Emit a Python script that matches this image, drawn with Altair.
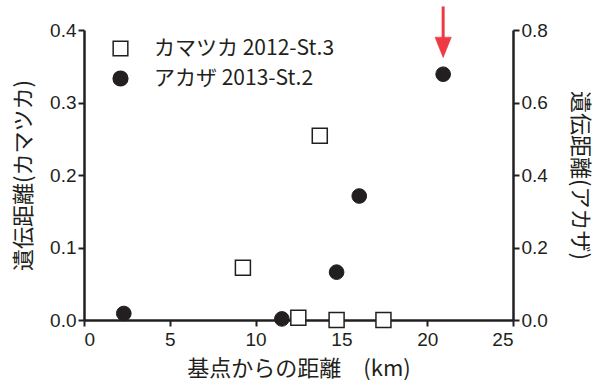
import altair as alt
import pandas as pd

# Distance from the base point (km) and genetic distance per sampling site
kamatsuka_label = "カマツカ 2012-St.3"
akaza_label = "アカザ 2013-St.2"

kamatsuka_km = [9.26, 13.74, 12.49, 14.72, 17.45]
kamatsuka_dist = [0.072, 0.254, 0.003, 0.0, 0.0]

akaza_km = [2.32, 11.53, 14.72, 16.04, 20.93]
akaza_dist = [0.018, 0.003, 0.132, 0.342, 0.678]

# Red marker pointing at the farthest アカザ site (right-axis units)
arrow_km = [20.93]
arrow_top = [0.865]
arrow_neck = [0.775]
arrow_head_center = [0.752]

x_ticks = [0, 5, 10, 15, 20, 25]
left_ticks = [0.0, 0.1, 0.2, 0.3, 0.4]
right_ticks = [0.0, 0.2, 0.4, 0.6, 0.8]

series_domain = [kamatsuka_label, akaza_label]

kam = pd.DataFrame({"km": kamatsuka_km, "dist": kamatsuka_dist, "series": kamatsuka_label})
aka = pd.DataFrame({"km": akaza_km, "dist": akaza_dist, "series": akaza_label})
arrow = pd.DataFrame({"km": arrow_km, "top": arrow_top, "neck": arrow_neck,
                      "head": arrow_head_center})

INK = "#231f20"
RED = "#ee3a43"
NUM_FONT = "Liberation Sans, Arial, Noto Sans CJK JP"
JP_FONT = "Noto Sans CJK JP"

x_enc = alt.X("km:Q",
              scale=alt.Scale(domain=[0, 25], nice=False, zero=True),
              axis=alt.Axis(values=x_ticks, format="d", title="基点からの距離　(km)",
                            labelPadding=4, titlePadding=9, titleColor=INK))

legend_def = alt.Legend(title=None, orient="none", legendX=26, legendY=8,
                        symbolSize=215, symbolStrokeWidth=1.5,
                        labelOffset=23, rowPadding=8, labelFontSize=21,
                        labelLimit=400, labelFont=JP_FONT, labelColor=INK)

shape_enc = alt.Shape("series:N",
                      scale=alt.Scale(domain=series_domain, range=["square", "circle"]),
                      legend=legend_def)
fill_enc = alt.Fill("series:N",
                    scale=alt.Scale(domain=series_domain, range=["white", INK]),
                    legend=legend_def)
stroke_enc = alt.Stroke("series:N",
                        scale=alt.Scale(domain=series_domain, range=[INK, INK]),
                        legend=legend_def)

left_y = alt.Y("dist:Q",
               scale=alt.Scale(domain=[0, 0.4], nice=False),
               axis=alt.Axis(orient="left", values=left_ticks, format=".1f",
                             title="遺伝距離(カマツカ)", titlePadding=14,
                             titleColor=INK))

right_y = alt.Y("dist:Q",
                scale=alt.Scale(domain=[0, 0.8], nice=False),
                axis=alt.Axis(orient="right", values=right_ticks, format=".1f",
                              title="遺伝距離(アカザ)", titlePadding=20,
                              titleColor=INK))

squares = alt.Chart(kam).mark_point(size=225, strokeWidth=1.5, opacity=1,
                                     filled=True).encode(
    x=x_enc, y=left_y, shape=shape_enc, fill=fill_enc, stroke=stroke_enc)

circles = alt.Chart(aka).mark_point(size=215, strokeWidth=1, opacity=1,
                                     filled=True).encode(
    x=x_enc, y=right_y, shape=shape_enc, fill=fill_enc, stroke=stroke_enc)

shaft = alt.Chart(arrow).mark_rule(color=RED, strokeWidth=3).encode(
    x=x_enc,
    y=alt.Y("top:Q", scale=alt.Scale(domain=[0, 0.8], nice=False), axis=None),
    y2="neck:Q")

head = alt.Chart(arrow).mark_point(
    shape="M-0.8,-1L0.8,-1L0,1Z", size=420, filled=True, fill=RED, stroke=RED,
    strokeWidth=0.5, opacity=1).encode(
    x=x_enc,
    y=alt.Y("head:Q", scale=alt.Scale(domain=[0, 0.8], nice=False), axis=None))

chart = alt.layer(squares, circles, shaft, head).resolve_scale(y="independent").properties(
    width=429, height=290,
    autosize=alt.AutoSizeParams(type="none"),
    padding={"left": 84, "top": 30, "right": 98, "bottom": 60},
).configure_view(stroke=None).configure_axis(
    domainColor=INK, domainWidth=2.5, tickColor=INK, tickWidth=2, tickSize=6,
    labelFont=NUM_FONT, labelFontSize=19, labelColor=INK, labelPadding=2,
    titleFont=JP_FONT, titleFontSize=22, titleFontWeight="normal", titleColor=INK,
    grid=False,
)

chart.save("out.html", embed_options={"renderer": "svg", "actions": False})
